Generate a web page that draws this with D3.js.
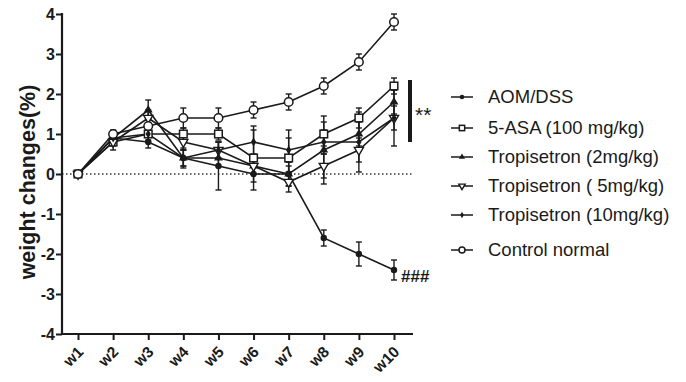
<!DOCTYPE html>
<html lang="en">
<head>
  <meta charset="UTF-8" />
  <title>Weight changes</title>
  <script src="https://d3js.org/d3.v7.min.js"></script>
  <style>
    body { margin: 0; background: #fff; }
    svg { font-family: "Liberation Sans", Arial, sans-serif; }
  </style>
</head>
<body>
  <svg id="chart" width="686" height="382"></svg>
  <script>
    // data
    const weeks = ["w1", "w2", "w3", "w4", "w5", "w6", "w7", "w8", "w9", "w10"];
    const yTicks = [-4, -3, -2, -1, 0, 1, 2, 3, 4];

    const aomDss      = [0, 0.9, 0.8, 0.4, 0.2, 0.0, 0.0, -1.6, -2.0, -2.4];
    const aomDssErr   = [0, 0.1, 0.15, 0.2, 0.6, 0.2, 0.2, 0.2, 0.3, 0.25];
    const asa         = [0, 0.8, 1.0, 1.0, 1.0, 0.4, 0.4, 1.0, 1.4, 2.2];
    const asaErr      = [0, 0.1, 0.15, 0.15, 0.15, 0.8, 0.7, 0.3, 0.25, 0.2];
    const trop2       = [0, 0.9, 1.6, 0.4, 0.4, 0.2, 0.0, 0.6, 1.0, 1.8];
    const trop2Err    = [0, 0.1, 0.25, 0.25, 0.2, 0.2, 0.3, 0.85, 0.3, 0.3];
    const trop5       = [0, 0.8, 1.4, 0.8, 0.6, 0.2, -0.2, 0.2, 0.6, 1.4];
    const trop5Err    = [0, 0.2, 0.2, 0.2, 0.2, 0.2, 0.25, 0.3, 0.3, 0.3];
    const trop10      = [0, 0.9, 1.0, 0.4, 0.6, 0.8, 0.6, 0.8, 0.8, 1.4];
    const trop10Err   = [0, 0.1, 0.2, 0.2, 0.2, 0.3, 0.3, 0.3, 0.75, 0.7];
    const control     = [0, 1.0, 1.2, 1.4, 1.4, 1.6, 1.8, 2.2, 2.8, 3.8];
    const controlErr  = [0, 0.1, 0.2, 0.25, 0.25, 0.2, 0.2, 0.2, 0.2, 0.2];

    const series = [
      {name: "AOM/DSS", values: aomDss, err: aomDssErr, marker: "dot"},
      {name: "5-ASA (100 mg/kg)", values: asa, err: asaErr, marker: "square"},
      {name: "Tropisetron (2mg/kg)", values: trop2, err: trop2Err, marker: "triUp"},
      {name: "Tropisetron ( 5mg/kg)", values: trop5, err: trop5Err, marker: "triDown"},
      {name: "Tropisetron (10mg/kg)", values: trop10, err: trop10Err, marker: "diamond"},
      {name: "Control normal", values: control, err: controlErr, marker: "circle"}
    ];

    const ink = "#1a1a1a";
    const svg = d3.select("#chart");

    const x = d3.scalePoint().domain(weeks).range([78, 394]);
    const y = d3.scaleLinear().domain([-4, 4]).range([334, 14]);

    // zero reference line
    svg.append("line")
      .attr("x1", 62).attr("x2", 412)
      .attr("y1", y(0)).attr("y2", y(0))
      .attr("stroke", "#333").attr("stroke-width", 1.3)
      .attr("stroke-dasharray", "1.5,2.5");

    // axes
    const yAxis = svg.append("g")
      .attr("transform", "translate(62,0)")
      .call(d3.axisLeft(y).tickValues(yTicks).tickFormat(d => String(d)).tickSize(6).tickPadding(1));
    yAxis.select(".domain").remove();
    yAxis.selectAll("line").attr("stroke", ink).attr("stroke-width", 2);
    yAxis.selectAll("text")
      .attr("fill", ink).attr("font-size", 16).attr("font-weight", "bold")
      .attr("font-family", "Liberation Sans, Arial, sans-serif");

    const xAxis = svg.append("g")
      .attr("transform", "translate(0,334)")
      .call(d3.axisBottom(x).tickSize(6));
    xAxis.select(".domain").remove();
    xAxis.selectAll("line").attr("stroke", ink).attr("stroke-width", 2);
    xAxis.selectAll("text")
      .attr("fill", ink).attr("font-size", 15.5).attr("font-weight", "bold")
      .attr("font-family", "Liberation Sans, Arial, sans-serif")
      .attr("text-anchor", "end")
      .attr("x", 0).attr("y", 0).attr("dy", "0.35em")
      .attr("transform", "translate(2,15) rotate(-45)");

    svg.append("line")
      .attr("x1", 62).attr("x2", 62).attr("y1", y(4) - 1).attr("y2", 335)
      .attr("stroke", ink).attr("stroke-width", 2.2);
    svg.append("line")
      .attr("x1", 61).attr("x2", 413).attr("y1", 334).attr("y2", 334)
      .attr("stroke", ink).attr("stroke-width", 2.2);

    // y label
    svg.append("text")
      .attr("transform", "translate(27,182) rotate(-90)")
      .attr("text-anchor", "middle")
      .attr("dy", "0.35em")
      .attr("font-size", 21.5).attr("font-weight", "bold").attr("fill", ink)
      .text("weight changes(%)");

    const line = d3.line().x((d, i) => x(weeks[i])).y(d => y(d));

    // lines
    series.forEach(s => {
      svg.append("path")
        .datum(s.values)
        .attr("d", line)
        .attr("fill", "none")
        .attr("stroke", ink)
        .attr("stroke-width", 1.6);
    });

    // error bars
    series.forEach(s => {
      const g = svg.append("g").attr("stroke", ink).attr("stroke-width", 1.4);
      s.values.forEach((v, i) => {
        const e = s.err[i];
        if (!e) return;
        const cx = x(weeks[i]);
        g.append("line").attr("x1", cx).attr("x2", cx).attr("y1", y(v + e)).attr("y2", y(v - e));
        g.append("line").attr("x1", cx - 3).attr("x2", cx + 3).attr("y1", y(v + e)).attr("y2", y(v + e));
        g.append("line").attr("x1", cx - 3).attr("x2", cx + 3).attr("y1", y(v - e)).attr("y2", y(v - e));
      });
    });

    function drawMarker(g, type, cx, cy, scale) {
      const k = scale || 1;
      if (type === "dot") {
        g.append("circle").attr("cx", cx).attr("cy", cy).attr("r", 3.2 * k).attr("fill", ink);
      } else if (type === "square") {
        g.append("rect").attr("x", cx - 3.8 * k).attr("y", cy - 3.8 * k)
          .attr("width", 7.6 * k).attr("height", 7.6 * k)
          .attr("fill", "#fff").attr("stroke", ink).attr("stroke-width", 1.5);
      } else if (type === "triUp") {
        g.append("path").attr("d", d3.symbol(d3.symbolTriangle, 34 * k * k)())
          .attr("transform", `translate(${cx},${cy})`).attr("fill", ink);
      } else if (type === "triDown") {
        g.append("path").attr("d", d3.symbol(d3.symbolTriangle, 36 * k * k)())
          .attr("transform", `translate(${cx},${cy}) rotate(180)`)
          .attr("fill", "#fff").attr("stroke", ink).attr("stroke-width", 1.4);
      } else if (type === "diamond") {
        g.append("path").attr("d", d3.symbol(d3.symbolDiamond, 24 * k * k)())
          .attr("transform", `translate(${cx},${cy})`).attr("fill", ink);
      } else {
        g.append("circle").attr("cx", cx).attr("cy", cy).attr("r", 4.3 * k)
          .attr("fill", "#fff").attr("stroke", ink).attr("stroke-width", 1.5);
      }
    }

    // markers
    series.forEach(s => {
      const g = svg.append("g");
      s.values.forEach((v, i) => drawMarker(g, s.marker, x(weeks[i]), y(v)));
    });

    // significance marks
    svg.append("line")
      .attr("x1", 410).attr("x2", 410).attr("y1", 80).attr("y2", 142)
      .attr("stroke", ink).attr("stroke-width", 4);
    svg.append("text")
      .attr("x", 415).attr("y", 122)
      .attr("font-size", 21).attr("fill", ink).text("**");
    svg.append("text")
      .attr("x", 401).attr("y", 282)
      .attr("font-size", 17).attr("font-weight", "bold").attr("fill", ink).text("###");

    // legend
    const legendY = [97, 128, 157, 186, 215, 250];
    const legend = svg.append("g");
    series.forEach((s, i) => {
      const ly = legendY[i];
      legend.append("line")
        .attr("x1", 451).attr("x2", 473).attr("y1", ly).attr("y2", ly)
        .attr("stroke", ink).attr("stroke-width", 1.5);
      drawMarker(legend, s.marker, 462, ly, 0.7);
      legend.append("text")
        .attr("x", 488).attr("y", ly).attr("dy", "0.35em")
        .attr("font-size", 18.5).attr("fill", ink)
        .text(s.name);
    });
  </script>
</body>
</html>
